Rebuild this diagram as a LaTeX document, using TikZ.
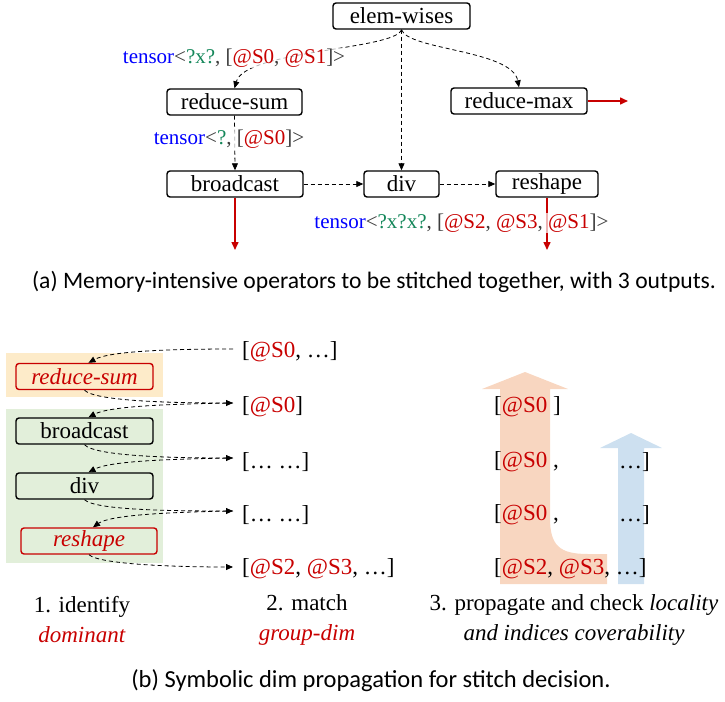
\documentclass[tikz,border=0pt]{standalone}
\usepackage{fontspec}
\setmainfont{Liberation Serif}
\newfontfamily\capfont{Carlito}
\usetikzlibrary{arrows.meta,calc}
\definecolor{myred}{RGB}{200,0,0}
\definecolor{myblue}{RGB}{0,0,255}
\definecolor{mygreen}{RGB}{20,135,90}
\definecolor{mygray}{RGB}{60,60,60}
\definecolor{peach}{RGB}{248,214,192}
\definecolor{skyb}{RGB}{205,224,240}
\definecolor{bgorange}{RGB}{253,235,201}
\definecolor{bggreen}{RGB}{226,239,218}
\newcommand{\tn}{\textcolor{myblue}{tensor}}
\newcommand{\qq}[1]{\textcolor{mygreen}{#1}}
\newcommand{\rs}[1]{\textcolor{myred}{#1}}
\begin{document}
\begin{tikzpicture}[x=1pt,y=-1pt,
 opbox/.style={draw,line width=1.4pt,rounded corners=3pt,minimum height=26pt,inner sep=0pt,font=\fontsize{23}{27}\selectfont},
 redbox/.style={opbox,draw=myred,text=myred,font=\fontsize{23}{27}\selectfont\itshape},
 dflow/.style={dash pattern=on 4pt off 3pt,line width=0.8pt,-{Triangle[length=7pt,width=6pt]}},
 outarr/.style={myred,line width=1.5pt,-{Triangle[length=8pt,width=7pt]}},
 lbl/.style={fill=white,fill opacity=0.7,text opacity=1,inner sep=1pt,font=\fontsize{21}{25}\selectfont,text=mygray},
 txt/.style={inner sep=0pt,font=\fontsize{23}{27}\selectfont},
 steptxt/.style={inner sep=0pt,align=center,font=\fontsize{23}{30}\selectfont},
 capt/.style={inner sep=0pt,font=\capfont\fontsize{23.6}{28}\selectfont}]
\useasboundingbox (0,0) rectangle (725,701);

% ---------- (a) ----------
\node[opbox,minimum width=137pt] (ew) at (401.5,16) {elem-wises};
\node[opbox,minimum width=135pt] (rsum) at (234.5,102) {reduce-sum};
\node[opbox,minimum width=136pt] (rmax) at (519,101) {reduce-max};
\node[opbox,minimum width=136pt] (bc) at (235,184) {broadcast};
\node[opbox,minimum width=75pt] (dv) at (401.5,184) {div};
\node[opbox,minimum width=102pt] (rsh) at (547,184) {reshape};

\coordinate (bcout) at (235,250);
\coordinate (rshout) at (547,250);
\coordinate (rmaxout) at (628,101);

\draw[dflow] (ew.south) .. controls (395,50) and (245,50) .. (rsum.north);
\draw[dflow] (ew.south) .. controls (408,50) and (512,50) .. (rmax.north);
\draw[dflow] (ew.south) -- (dv.north);
\draw[dflow] (rsum.south) -- (bc.north);
\draw[dflow] (bc.east) -- (dv.west);
\draw[dflow] (dv.east) -- (rsh.west);
\draw[outarr] (bc.south) -- (bcout);
\draw[outarr] (rsh.south) -- (rshout);
\draw[outarr] (rmax.east) -- (rmaxout);

\node[lbl] (l1) at (234,58) {\tn<\qq{?x?}, [\rs{@S0}, \rs{@S1}]>};
\node[lbl] (l2) at (229,139) {\tn<\qq{?}, [\rs{@S0}]>};
\node[lbl] (l3) at (461.5,223) {\tn<\qq{?x?x?}, [\rs{@S2}, \rs{@S3}, \rs{@S1}]>};

\node[capt] (ca) at (374,282) {(a) Memory-intensive operators to be stitched together, with 3 outputs.};

% ---------- (b) ----------
\fill[bgorange] (6,353) rectangle (163,397);
\fill[bggreen] (6,409) rectangle (163,563);

\node[redbox,minimum width=137pt] (brs) at (84.5,376.5) {reduce-sum};
\node[opbox,minimum width=137pt] (bbc) at (84.5,431) {broadcast};
\node[opbox,minimum width=137pt] (bdv) at (84.5,486) {div};
\node[redbox,minimum width=136pt] (brh) at (89,541) {reshape};

\node[txt,anchor=west] (m1) at (242,352) {[\rs{@S0}, …]};
\node[txt,anchor=west] (m2) at (242,407) {[\rs{@S0}]};
\node[txt,anchor=west] (m3) at (242,462) {[… …]};
\node[txt,anchor=west] (m4) at (242,515) {[… …]};
\node[txt,anchor=west] (m5) at (242,569) {[\rs{@S2}, \rs{@S3}, …]};

\coordinate (m1a) at ($(m1.west)+(-9,-3)$);
\coordinate (m2a) at ($(m2.west)+(-9,-4)$);
\coordinate (m3a) at ($(m3.west)+(-9,-4)$);
\coordinate (m4a) at ($(m4.west)+(-9,-4)$);
\coordinate (m5a) at ($(m5.west)+(-9,-2)$);

\draw[dflow] (m1a) .. controls (170,349) and (110,351) .. ($(brs.north)+(4,0)$);
\draw[dflow] (brs.south) .. controls (95,401) and (170,403) .. (m2a);
\draw[dflow] (m2a) .. controls (170,404) and (110,406) .. ($(bbc.north)+(4,0)$);
\draw[dflow] (bbc.south) .. controls (95,456) and (170,458) .. (m3a);
\draw[dflow] (m3a) .. controls (170,459) and (110,461) .. ($(bdv.north)+(4,0)$);
\draw[dflow] (bdv.south) .. controls (95,510) and (170,511) .. (m4a);
\draw[dflow] (m4a) .. controls (170,512) and (110,515) .. ($(brh.north)+(4,0)$);
\draw[dflow] (brh.south) .. controls (99,564) and (170,567) .. (m5a);

% propagation arrows
\fill[peach] (525,372) -- (568,389) -- (550,389) -- (550,518)
  .. controls (550,546) and (560,554) .. (588,554) -- (607,554) -- (607,584)
  -- (500,584) -- (500,389) -- (482,389) -- cycle;
\fill[skyb] (631,433) -- (662,448) -- (644,448) -- (644,584) -- (618,584)
  -- (618,448) -- (600,448) -- cycle;

\node[txt,anchor=west] (p1) at (494,407) {[\rs{@S0} ]};
\node[txt,anchor=west] (p2) at (494,462) {[\rs{@S0} ,};
\node[txt,anchor=east] (q2) at (650,462) {…]};
\node[txt,anchor=west] (p3) at (494,515) {[\rs{@S0} ,};
\node[txt,anchor=east] (q3) at (650,515) {…]};
\node[txt,anchor=west] (p4) at (494,569) {[\rs{@S2}, \rs{@S3}, …]};

\node[steptxt] (s1) at (82,620) {1. identify\\\rs{\textit{dominant}}};
\node[steptxt] (s2) at (307,620) {2. match\\\rs{\textit{group-dim}}};
\node[steptxt] (s3) at (574,620) {3. propagate and check \textit{locality}\\\textit{and indices coverability}};

\node[capt,font=\capfont\fontsize{24.5}{29}\selectfont] (cb) at (371,681) {(b) Symbolic dim propagation for stitch decision.};
\end{tikzpicture}
\end{document}
